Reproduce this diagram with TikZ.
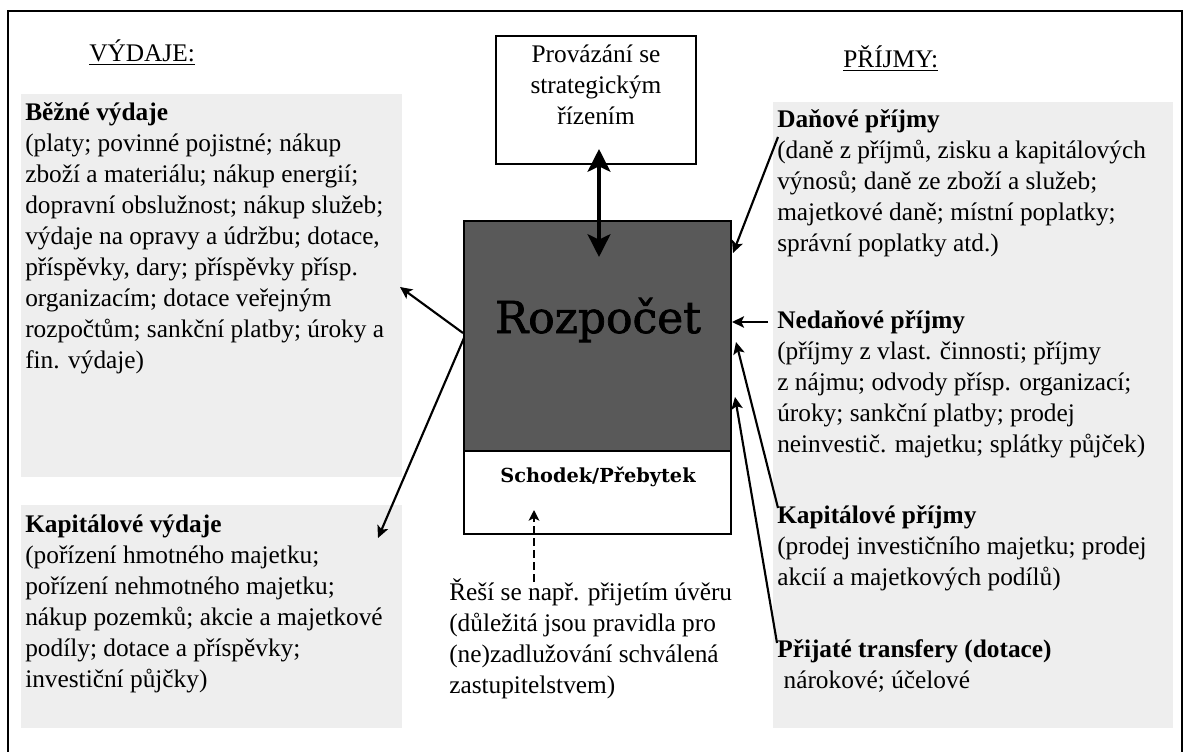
\documentclass[tikz,border=0pt]{standalone}
\usepackage{fontspec}
\setmainfont{Liberation Serif}
\newfontfamily\djserif{DejaVu Serif}
\newfontfamily\djserifheavy{DejaVu Serif}[FakeBold=1.6]
\usetikzlibrary{arrows.meta}
\definecolor{boxgray}{HTML}{EEEEEE}
\definecolor{rozgray}{HTML}{595959}
\newcommand{\tl}[1]{\begin{tabular}[t]{@{}l@{}}#1\end{tabular}}
\newcommand{\tc}[1]{\begin{tabular}[t]{@{}c@{}}#1\end{tabular}}
\begin{document}
\begin{tikzpicture}[x=0.75pt,y=-0.75pt,
  txt/.style={font=\fontsize{19pt}{23.25pt}\selectfont, inner sep=0pt, anchor=base west},
  arr/.style={line width=1.6pt, -{Stealth[length=9pt,width=8.5pt,inset=2pt]}},
]
\useasboundingbox (0,0) rectangle (1184,752);
\fill[white] (0,0) rectangle (1184,752);
% outer frame
\draw[line width=1.7pt] (8,11) rectangle (1182,780);
% grey backgrounds
\fill[boxgray] (21,94) rectangle (402,477);
\fill[boxgray] (21,505) rectangle (402,728);
\fill[boxgray] (773,102) rectangle (1173,728);
% headings
\node[txt] (vydaje) at (89,62) {\underline{VÝDAJE:}};
\node[txt] (prijmy) at (843,68) {\underline{PŘÍJMY:}};
% left texts
\node[txt] (bezne) at (25,121) {\tl{\textbf{Běžné výdaje}\\
(platy; povinné pojistné; nákup\\
zboží a materiálu; nákup energií;\\
dopravní obslužnost; nákup služeb;\\
výdaje na opravy a údržbu; dotace,\\
příspěvky, dary; příspěvky přísp.\\
organizacím; dotace veřejným\\
rozpočtům; sankční platby; úroky a\\
fin. výdaje)}};
\node[txt] (kapvyd) at (25,532) {\tl{\textbf{Kapitálové výdaje}\\
(pořízení hmotného majetku;\\
pořízení nehmotného majetku;\\
nákup pozemků; akcie a majetkové\\
podíly; dotace a příspěvky;\\
investiční půjčky)}};
% right texts
\node[txt] (danove) at (777,128) {\tl{\textbf{Daňové příjmy}\\
(daně z příjmů, zisku a kapitálových\\
výnosů; daně ze zboží a služeb;\\
majetkové daně; místní poplatky;\\
správní poplatky atd.)}};
\node[txt] (nedanove) at (777,328) {\tl{\textbf{Nedaňové příjmy}\\
(příjmy z vlast. činnosti; příjmy\\
z nájmu; odvody přísp. organizací;\\
úroky; sankční platby; prodej\\
neinvestič. majetku; splátky půjček)}};
\node[txt] (kapprij) at (777,523) {\tl{\textbf{Kapitálové příjmy}\\
(prodej investičního majetku; prodej\\
akcií a majetkových podílů)}};
\node[txt] (transfery) at (777,657) {\tl{\textbf{Přijaté transfery (dotace)}\\
\ nárokové; účelové}};
% top box
\draw[line width=0.8pt] (496,36) rectangle (696,164);
\node[txt, anchor=base] (provazani) at (596,63) {\tc{Provázání se\\strategickým\\řízením}};
% budget box
\filldraw[fill=rozgray, line width=1.5pt] (464,221) rectangle (731,451);
\filldraw[fill=white, line width=1.5pt] (464,451) rectangle (731,534);
\node[font=\djserifheavy\fontsize{33pt}{33pt}\selectfont, anchor=base, inner sep=0pt] (roz) at (598,333) {Rozpočet};
\node[font=\djserif\bfseries\fontsize{14.5pt}{17pt}\selectfont, anchor=base, inner sep=0pt] (schodek) at (598,482) {Schodek/Přebytek};
% bottom note
\node[txt] (resi) at (449,600) {\tl{Řeší se např. přijetím úvěru\\
(důležitá jsou pravidla pro\\
(ne)zadlužování schválená\\
zastupitelstvem)}};
% connector end points
\coordinate (provB) at (599,149);
\coordinate (rozT) at (599,257);
\coordinate (rozL1) at (463,333);
\coordinate (bezTip) at (400,287);
\coordinate (rozL2) at (464,338);
\coordinate (kapTip) at (378,538);
\coordinate (danS) at (778,137);
\coordinate (rozR1) at (733,253);
\coordinate (nedS) at (768,322);
\coordinate (rozR2) at (732,322);
\coordinate (kapS) at (778,508);
\coordinate (rozR3) at (736,342);
\coordinate (traS) at (777,643);
\coordinate (rozR4) at (735,397);
\coordinate (resiT) at (534,582);
\coordinate (schB) at (534,510);
% connectors
\draw[line width=3.2pt, {Stealth[length=17pt,width=17pt,inset=4pt]}-{Stealth[length=17pt,width=17pt,inset=4pt]}] (provB) -- (rozT);
\draw[arr] (rozL1) -- (bezTip);
\draw[arr] (rozL2) -- (kapTip);
\draw[arr] (danS) -- (rozR1);
\draw[arr] (nedS) -- (rozR2);
\draw[arr] (kapS) -- (rozR3);
\draw[arr] (traS) -- (rozR4);
\draw[line width=1.5pt, dash pattern=on 6pt off 3pt, -{Stealth[length=8pt,width=8pt,inset=2pt]}] (resiT) -- (schB);
\end{tikzpicture}
\end{document}
